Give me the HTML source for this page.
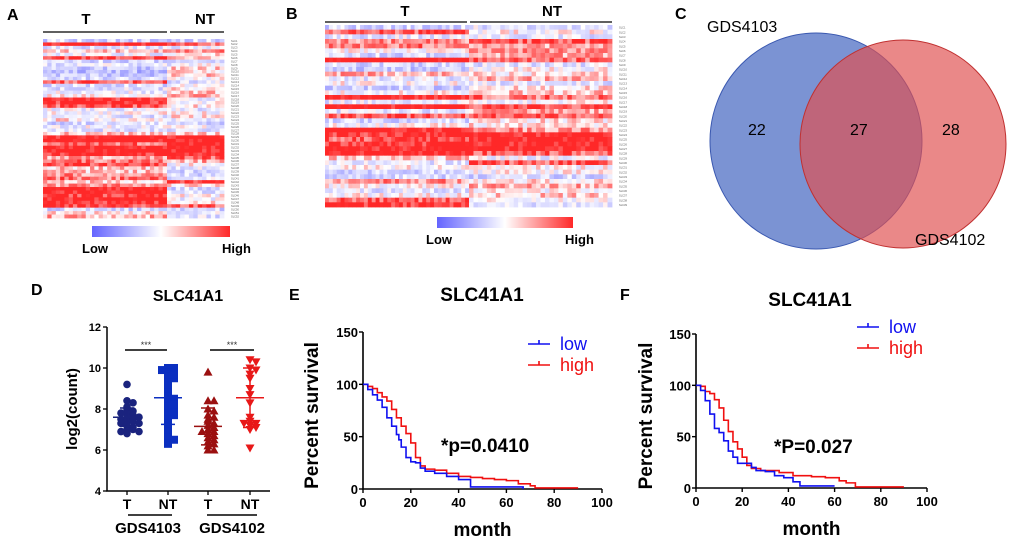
<!DOCTYPE html>
<html><head><meta charset="utf-8"><style>
body{margin:0;background:#fff;width:1020px;height:542px;overflow:hidden}
svg{font-family:"Liberation Sans",Arial,sans-serif}
</style></head><body>
<svg id="s" width="1020" height="542" viewBox="0 0 1020 542" xmlns="http://www.w3.org/2000/svg">
<defs>
<linearGradient id="cb" x1="0" x2="1"><stop offset="0" stop-color="#6464ff"/><stop offset="0.5" stop-color="#fff"/><stop offset="1" stop-color="#ff2828"/></linearGradient>
</defs>
<g font-weight="bold" font-size="16" fill="#000">
<text x="7" y="20">A</text>
<text x="286" y="19">B</text>
<text x="675" y="19">C</text>
<text x="31" y="295">D</text>
<text x="289" y="300">E</text>
<text x="620" y="300">F</text>
</g>
<g id="hmA"></g>
<g id="hmB"></g>
<g>
<ellipse cx="816" cy="141" rx="106" ry="108" fill="#5a78c8" fill-opacity="0.8" stroke="#3a58b0"/>
<ellipse cx="903" cy="144" rx="103" ry="104" fill="#e05050" fill-opacity="0.68" stroke="#c03030"/>
<text x="707" y="32" font-size="16">GDS4103</text>
<text x="915" y="245" font-size="16">GDS4102</text>
<text x="748" y="135" font-size="16">22</text>
<text x="850" y="135" font-size="16">27</text>
<text x="942" y="135" font-size="16">28</text>
</g>
<g id="pd"></g>
<g id="pe"></g>
<g id="pf"></g>
</svg>
<script>
const NS="http://www.w3.org/2000/svg";
function mk(p,t,a,txt){const e=document.createElementNS(NS,t);for(const k in a)e.setAttribute(k,a[k]);if(txt!=null)e.textContent=txt;p.appendChild(e);return e;}
// ---------- Heatmap data (row mean levels -1..1 for T and NT groups) ----------
const hmA_T=[-0.3,0.9,-0.2,0.2,-0.1,0.7,-0.3,-0.2,-0.4,-0.5,-0.4,-0.3,0.6,-0.3,-0.2,-0.1,0.0,0.8,0.8,0.6,-0.1,0.0,-0.2,0.1,-0.3,-0.1,-0.2,0.2,0.9,0.9,0.5,0.9,0.9,0.8,0.3,0.5,0.7,0.2,0.2,0.4,0.5,0.2,0.4,0.9,0.9,0.7,0.9,0.8,0.7,-0.3,0.1,0.3];
const hmA_N=[-0.3,0.5,-0.2,0.4,0.1,0.2,-0.3,-0.1,0.2,0.1,0.2,0.0,-0.2,0.0,0.1,0.2,0.3,-0.1,0.0,0.1,-0.2,0.0,0.1,-0.2,-0.3,-0.1,-0.3,0.2,0.9,0.9,0.8,0.9,0.9,0.9,0.6,0.3,0.0,-0.2,-0.3,-0.3,-0.2,0.8,0.2,-0.3,-0.2,0.0,-0.1,0.2,0.6,-0.3,-0.1,-0.2];
const hmB_T=[-0.3,0.6,-0.2,0.4,0.5,0.0,-0.3,1.0,-0.3,-0.4,0.3,-0.2,0.0,-0.4,0.0,0.9,-0.2,0.9,-0.2,0.6,-0.3,0.0,0.9,0.8,0.6,0.8,0.9,0.9,0.2,-0.2,0.0,-0.3,-0.3,0.4,0.0,-0.2,0.0,0.6,0.8];
const hmB_N=[-0.2,0.0,-0.2,0.6,0.3,0.4,0.3,0.5,-0.2,0.0,0.1,0.3,-0.2,0.1,0.2,0.5,0.0,0.6,0.3,0.6,0.1,0.1,0.4,0.9,0.9,0.9,0.9,0.6,-0.1,0.6,0.0,0.0,-0.3,0.1,0.3,0.0,0.2,0.0,-0.2];
function col(v){v=Math.max(-1,Math.min(1,v));let r,g,b;if(v<0){const t=-v*0.7;r=255-155*t;g=255-155*t;b=255;}else{r=255;g=255-215*v;b=255-215*v;}return `rgb(${r|0},${g|0},${b|0})`;}
function tex(r,c){let h=(r*73856093)^(c*19349663);h=(h^(h>>13))*1274126177;h=h^(h>>16);return ((h>>>0)%1000)/1000-0.5;}
function heat(g,x0,y0,w,h,nT,nN,rowsT,rowsN,split,name){
  const R=rowsT.length,rh=h/R;
  for(let r=0;r<R;r++){
    for(let c=0;c<nT+nN;c++){
      const isT=c<nT;const cw=isT?(split-x0)/nT:(x0+w-split)/nN;
      const x=isT?x0+c*cw:split+(c-nT)*cw;
      const base=isT?rowsT[r]:rowsN[r];
      const v=base*1.25+tex(r,c)*0.75;
      const e=mk(g,'rect',{x:x.toFixed(2),y:(y0+r*rh).toFixed(2),width:(cw+0.4).toFixed(2),height:(rh+0.4).toFixed(2),fill:col(v)});
      
      
    }
    const t=mk(g,'text',{x:x0+w+7,y:(y0+r*rh+rh*0.8).toFixed(1),'font-size':2.6,fill:'#555'},'SLC'+(r+1));
    
    
  }
}
function hmHeader(g,x0,x1,split,y,ty,tx1,tx2,cbx,cby,cbw,lowx,highx,ly){
  const a=mk(g,'line',{x1:x0,x2:split-2,y1:y,y2:y,stroke:'#000','stroke-width':1.2});
  const b=mk(g,'line',{x1:split+1,x2:x1,y1:y,y2:y,stroke:'#000','stroke-width':1.2});
  const t=mk(g,'text',{x:tx1,y:ty,'font-size':15,'font-weight':'bold','text-anchor':'middle'},'T');
  const n=mk(g,'text',{x:tx2,y:ty,'font-size':15,'font-weight':'bold','text-anchor':'middle'},'NT');
  const c=mk(g,'rect',{x:cbx,y:cby,width:cbw,height:11,fill:'url(#cb)'});
  const l=mk(g,'text',{x:lowx,y:ly,'font-size':13,'font-weight':'bold'},'Low');
  const hh=mk(g,'text',{x:highx,y:ly,'font-size':13,'font-weight':'bold'},'High');
}
const gA=document.getElementById('hmA');heat(gA,43,39,181,179,29,13,hmA_T,hmA_N,167,'a');
hmHeader(gA,43,224,169,32,24,86,205,92,226,138,82,222,253);
const gB=document.getElementById('hmB');heat(gB,325,25,287,182,37,32,hmB_T,hmB_N,469,'b');
hmHeader(gB,325,612,469,22,16,405,552,437,217,136,426,565,244);

// ---------- Panel D scatter ----------
const dGroups=['T','NT','T','NT'];
const d_T4103=[9.2,8.4,8.3,8.0,7.9,7.8,7.7,7.6,7.5,7.5,7.4,7.4,7.3,7.3,7.2,7.1,7.0,7.0,6.9,6.9,6.8,7.6,7.8,8.1];
const d_NT4103=[10.0,10.0,9.9,9.8,9.6,9.5,9.3,9.0,8.8,8.6,8.5,8.3,8.1,8.0,7.9,7.8,7.7,7.5,7.3,7.2,6.9,6.6,6.5,6.3,9.7,8.2];
const d_T4102=[9.8,8.4,8.4,8.0,7.9,7.7,7.5,7.4,7.3,7.2,7.1,7.0,6.9,6.8,6.7,6.6,6.5,6.4,6.3,6.2,6.0,6.0,7.6,6.9];
const d_NT4102=[10.4,10.3,10.0,9.9,9.7,9.5,9.0,8.7,8.3,7.6,7.4,7.3,7.3,7.2,7.1,7.0,6.1];
const dMeans=[7.6,8.55,7.15,8.55], dSD=[0.45,1.3,0.9,1.45];
const dTicks=[4,6,8,10,12];
(function(){
  const g=document.getElementById('pd');
  const X0=107,XW=163,Y0=491,Y1=327;
  const y=v=>Y0-(v-4)/8*(Y0-Y1);
  const xs=[127,168,208,250];
  const t=mk(g,'text',{x:188,y:301,'font-size':16,'font-weight':'bold','text-anchor':'middle'},'SLC41A1');
  const ax=mk(g,'path',{d:`M${X0},${Y1} V${Y0} H${X0+XW}`,stroke:'#000','stroke-width':1.5,fill:'none'});
  dTicks.forEach(v=>{const l=mk(g,'line',{x1:X0-4,x2:X0,y1:y(v),y2:y(v),stroke:'#000','stroke-width':1.3});
    const tt=mk(g,'text',{x:X0-6,y:y(v)+4,'font-size':11,'font-weight':'bold','text-anchor':'end'},v);});
  xs.forEach((x,i)=>{const l=mk(g,'line',{x1:x,x2:x,y1:Y0,y2:Y0+4,stroke:'#000','stroke-width':1.3});
    const tt=mk(g,'text',{x:x,y:Y0+18,'font-size':14,'font-weight':'bold','text-anchor':'middle'},dGroups[i]);});
  const yt=mk(g,'text',{x:0,y:0,transform:`translate(77,409) rotate(-90)`,'font-size':15,'font-weight':'bold','text-anchor':'middle'},'log2(count)');
  [[128,172,'GDS4103',148],[207,257,'GDS4102',232]].forEach(a=>{const l=mk(g,'line',{x1:a[0],x2:a[1],y1:515,y2:515,stroke:'#000','stroke-width':1.5});
    const tt=mk(g,'text',{x:a[3],y:533,'font-size':15,'font-weight':'bold','text-anchor':'middle'},a[2]);});
  [[125,167],[210,254]].forEach(a=>{const l=mk(g,'line',{x1:a[0],x2:a[1],y1:350,y2:350,stroke:'#000','stroke-width':1.5});
    const tt=mk(g,'text',{x:(a[0]+a[1])/2,y:348,'font-size':9,'text-anchor':'middle',fill:'#333'},'***');});
  const sets=[d_T4103,d_NT4103,d_T4102,d_NT4102],cols=['#1a237e','#0b2fc0','#9b1010','#e81818'];
  sets.forEach((s,i)=>{const c=xs[i];const cnt={};
    s.forEach(v=>{const k=Math.round(v*5);cnt[k]=(cnt[k]||0)+1;const n=cnt[k]-1;const off=Math.max(-14,Math.min(14,(n%2?1:-1)*Math.ceil(n/2)*6));const px=c+off,py=y(v);let e;
      if(i==0)e=mk(g,'circle',{cx:px,cy:py,r:3.8,fill:cols[i]});
      else if(i==1)e=mk(g,'rect',{x:px-4,y:py-4,width:8,height:8,fill:cols[i]});
      else if(i==2)e=mk(g,'path',{d:`M${px},${py-4.5} L${px+4.5},${py+3.5} L${px-4.5},${py+3.5}Z`,fill:cols[i]});
      else e=mk(g,'path',{d:`M${px},${py+4.5} L${px+4.5},${py-3.5} L${px-4.5},${py-3.5}Z`,fill:cols[i]});
      });
    const m=mk(g,'path',{d:`M${c-14},${y(dMeans[i])} H${c+14} M${c},${y(dMeans[i]-dSD[i])} V${y(dMeans[i]+dSD[i])} M${c-7},${y(dMeans[i]-dSD[i])} H${c+7} M${c-7},${y(dMeans[i]+dSD[i])} H${c+7}`,stroke:cols[i],'stroke-width':1.5,fill:'none'});
    });
})();

// ---------- Survival data ----------
const eMonths=[0,2,4,6,8,10,12,14,15,16,18,20,22,24,26,30,35,40,45,50,60,67];
const eLow  =[100,95,90,85,78,68,60,52,47,40,30,26,25,20,17,15,12,9,2,2,2,0];
const eHighM=[0,2,4,6,8,10,12,14,16,18,20,22,24,26,30,35,40,45,50,55,60,65,70,72,90];
const eHigh =[100,98,96,92,88,84,76,68,60,53,44,30,22,19,18,15,12,11,10,9,8,5,3,1,1];
const fMonths=[0,2,4,6,8,10,12,14,16,18,22,24,26,30,34,38,42,45,60];
const fLow  =[100,95,85,72,58,54,46,36,30,24,24,20,17,16,12,10,6,2,2];
const fHighM=[0,2,4,6,8,10,12,14,16,18,20,22,24,28,36,42,50,56,62,65,69,90];
const fHigh =[100,99,94,92,86,78,66,55,45,38,30,22,19,17,15,12,11,10,7,5,1,1];
const survTicksX=[0,20,40,60,80,100], survTicksY=[0,50,100,150];
function surv(g,X0,X1,Y0,Y1,lowM,low,highM,high,ptxt,px,py,tx,ty,legx,legy,ylab){
  const x=v=>X0+v/100*(X1-X0), y=v=>Y0-v/150*(Y0-Y1);
  const t=mk(g,'text',{x:tx,y:ty,'font-size':19,'font-weight':'bold','text-anchor':'middle'},'SLC41A1');
  const ax=mk(g,'path',{d:`M${X0},${Y1} V${Y0} H${X1}`,stroke:'#000','stroke-width':1.6,fill:'none'});
  survTicksX.forEach(v=>{const l=mk(g,'line',{x1:x(v),x2:x(v),y1:Y0,y2:Y0+4,stroke:'#000','stroke-width':1.4});
    const tt=mk(g,'text',{x:x(v),y:Y0+18,'font-size':13,'font-weight':'bold','text-anchor':'middle'},v);});
  survTicksY.forEach(v=>{const l=mk(g,'line',{x1:X0-4,x2:X0,y1:y(v),y2:y(v),stroke:'#000','stroke-width':1.4});
    const tt=mk(g,'text',{x:X0-5,y:y(v)+5,'font-size':13,'font-weight':'bold','text-anchor':'end'},v);});
  const xt=mk(g,'text',{x:(X0+X1)/2,y:Y0+47,'font-size':19,'font-weight':'bold','text-anchor':'middle'},'month');
  const yt=mk(g,'text',{x:0,y:0,transform:`translate(${ylab},${(Y0+Y1)/2+5}) rotate(-90)`,'font-size':19,'font-weight':'bold','text-anchor':'middle'},'Percent survival');
  function step(M,S,c,nm){let d=`M${x(M[0])},${y(S[0])}`;for(let i=1;i<M.length;i++)d+=` H${x(M[i])} V${y(S[i])}`;const p=mk(g,'path',{d:d,stroke:c,'stroke-width':1.6,fill:'none'});}
  step(highM,high,'#f01010','survival-line-high');
  step(lowM,low,'#1010f0','survival-line-low');
  const pt=mk(g,'text',{x:px,y:py,'font-size':19,'font-weight':'bold'},ptxt);
  [['low','#1010f0',0],['high','#f01010',21]].forEach(a=>{const yy=legy+a[2];const l=mk(g,'path',{d:`M${legx},${yy} H${legx+22} M${legx+11},${yy-4} V${yy}`,stroke:a[1],'stroke-width':1.6,fill:'none'});
    const tt=mk(g,'text',{x:legx+32,y:yy+6,'font-size':18,fill:a[1]},a[0]);});
}
surv(document.getElementById('pe'),363,602,489,332,eMonths,eLow,eHighM,eHigh,'*p=0.0410',441,452,482,301,528,344,318);
surv(document.getElementById('pf'),696,927,488,334,fMonths,fLow,fHighM,fHigh,'*P=0.027',774,453,810,306,857,327,652);
</script>
</body></html>
